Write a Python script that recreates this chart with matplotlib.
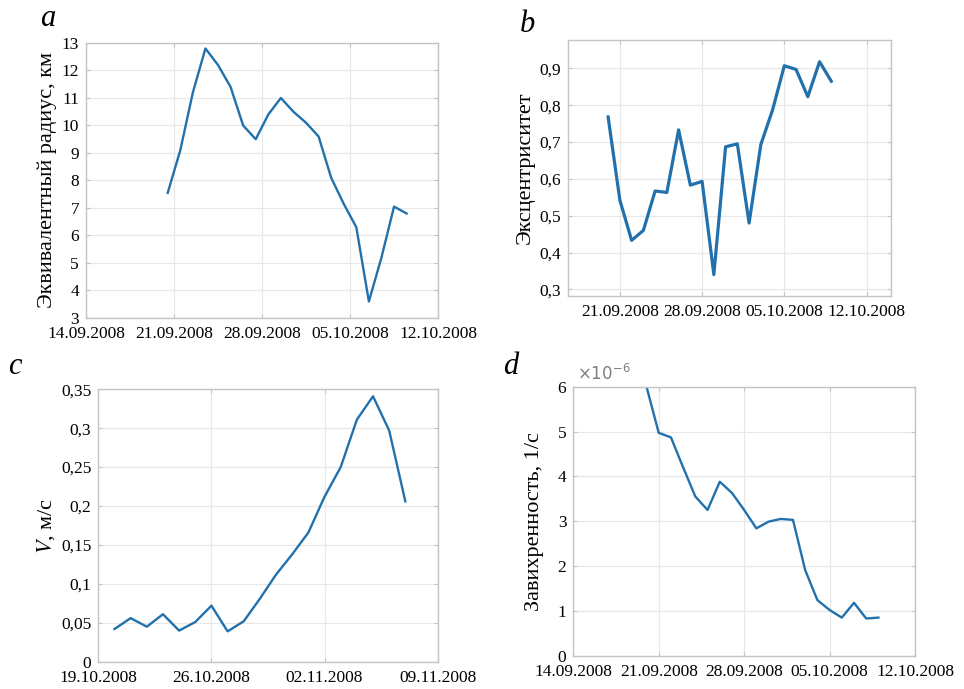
import matplotlib.pyplot as plt
import numpy as np
import pandas as pd

plt.rcParams['font.family'] = ['Liberation Serif', 'DejaVu Serif']
plt.rcParams['mathtext.fontset'] = 'stix'

# --- data ---
# a: equivalent radius, km (daily, 20.09.2008 12:00 ...)
a_dates = pd.date_range('2008-09-20 12:00', periods=20, freq='D')
a_vals = [7.55, 9.1, 11.2, 12.8, 12.2, 11.4, 10.0, 9.5, 10.4, 11.0,
          10.5, 10.1, 9.6, 8.1, 7.15, 6.3, 3.6, 5.2, 7.05, 6.8]

# b: eccentricity (daily, 20.09.2008 ...)
b_dates = pd.date_range('2008-09-20', periods=20, freq='D')
b_vals = [0.768, 0.542, 0.433, 0.46, 0.567, 0.563, 0.733, 0.583, 0.593, 0.34,
          0.687, 0.695, 0.48, 0.693, 0.787, 0.907, 0.897, 0.823, 0.918, 0.865]

# c: velocity, m/s (daily, 20.10.2008 ...)
c_dates = pd.date_range('2008-10-20', periods=19, freq='D')
c_vals = [0.042, 0.056, 0.045, 0.061, 0.040, 0.051, 0.072, 0.039, 0.052, 0.081,
          0.112, 0.138, 0.166, 0.212, 0.250, 0.311, 0.341, 0.297, 0.206]

# d: vorticity, 1/s (daily, 20.09.2008 ...)
d_dates = pd.date_range('2008-09-20', periods=20, freq='D')
d_vals = np.array([6.0, 4.97, 4.87, 4.2, 3.55, 3.25, 3.88, 3.63, 3.25, 2.84,
                   2.99, 3.05, 3.03, 1.91, 1.24, 1.02, 0.85, 1.18, 0.83, 0.85]) * 1e-6

sep_ticks = pd.to_datetime(['2008-09-14', '2008-09-21', '2008-09-28', '2008-10-05', '2008-10-12'])
sep_labels = ['14.09.2008', '21.09.2008', '28.09.2008', '05.10.2008', '12.10.2008']
oct_ticks = pd.to_datetime(['2008-10-19', '2008-10-26', '2008-11-02', '2008-11-09'])
oct_labels = ['19.10.2008', '26.10.2008', '02.11.2008', '09.11.2008']

a_yticks = list(range(3, 14))
b_yticks = [0.3, 0.4, 0.5, 0.6, 0.7, 0.8, 0.9]
b_ylabels = ['0,3', '0,4', '0,5', '0,6', '0,7', '0,8', '0,9']
c_yticks = [0, 0.05, 0.1, 0.15, 0.2, 0.25, 0.3, 0.35]
c_ylabels = ['0', '0,05', '0,1', '0,15', '0,2', '0,25', '0,3', '0,35']
d_yticks = np.arange(0, 7) * 1e-6
d_ylabels = ['0', '1', '2', '3', '4', '5', '6']

line_color = '#2271ad'
box_color = '#c4c4c4'
grid_color = '#e8e8e8'

fig = plt.figure(figsize=(9.64, 6.89), dpi=100)
ax_a = fig.add_axes([0.0892, 0.5385, 0.3652, 0.3991])
ax_b = fig.add_axes([0.5892, 0.5704, 0.3351, 0.3716])
ax_c = fig.add_axes([0.1020, 0.0396, 0.3520, 0.3954])
ax_d = fig.add_axes([0.5947, 0.0483, 0.3545, 0.3905])


def style(ax):
    for s in ax.spines.values():
        s.set_color(box_color)
        s.set_linewidth(1.0)
    ax.grid(True, color=grid_color, linewidth=0.9)
    ax.set_axisbelow(True)
    ax.tick_params(direction='in', length=3, color=box_color, labelsize=12.5,
                   top=True, right=True)
    ax.tick_params(axis='x', pad=6)
    ax.tick_params(axis='y', pad=5)


ax_a.plot(a_dates, a_vals, color=line_color, lw=1.7)
ax_a.set_xlim(pd.Timestamp('2008-09-14'), pd.Timestamp('2008-10-12'))
ax_a.set_ylim(3, 13)
ax_a.set_xticks(sep_ticks)
ax_a.set_xticklabels(sep_labels)
ax_a.set_yticks(a_yticks)
ax_a.set_ylabel('Эквивалентный радиус, км', fontsize=16, labelpad=3)

ax_b.plot(b_dates, b_vals, color=line_color, lw=2.3)
ax_b.set_xlim(pd.Timestamp('2008-09-16 14:00'), pd.Timestamp('2008-10-14 02:00'))
ax_b.set_ylim(0.282, 0.977)
ax_b.set_xticks(sep_ticks[1:])
ax_b.set_xticklabels(sep_labels[1:])
ax_b.set_yticks(b_yticks)
ax_b.set_yticklabels(b_ylabels)
ax_b.set_ylabel('Эксцентриситет', fontsize=16, labelpad=3)

ax_c.plot(c_dates, c_vals, color=line_color, lw=1.7)
ax_c.set_xlim(oct_ticks[0], oct_ticks[-1])
ax_c.set_ylim(0, 0.35)
ax_c.set_xticks(oct_ticks)
ax_c.set_xticklabels(oct_labels)
ax_c.set_yticks(c_yticks)
ax_c.set_yticklabels(c_ylabels)
ax_c.set_ylabel('$V$, м/с', fontsize=16, labelpad=3)

ax_d.plot(d_dates, d_vals, color=line_color, lw=1.7)
ax_d.set_xlim(sep_ticks[0], sep_ticks[-1])
ax_d.set_ylim(0, 6e-6)
ax_d.set_xticks(sep_ticks)
ax_d.set_xticklabels(sep_labels)
ax_d.set_yticks(d_yticks)
ax_d.set_yticklabels(d_ylabels)
ax_d.set_ylabel('Завихренность, 1/с', fontsize=16, labelpad=10)
ax_d.text(0.01, 1.01, r'$\times10^{-6}$', transform=ax_d.transAxes,
          fontsize=12, color='#808080', math_fontfamily='dejavusans',
          ha='left', va='bottom')

for ax in (ax_a, ax_b, ax_c, ax_d):
    style(ax)

letter_kw = dict(fontsize=22, style='italic', ha='center', va='center')
fig.text(48 / 964, 1 - 18 / 689, 'a', **letter_kw)
fig.text(527 / 964, 1 - 24 / 689, 'b', **letter_kw)
fig.text(15 / 964, 1 - 366 / 689, 'c', **letter_kw)
fig.text(511 / 964, 1 - 366 / 689, 'd', **letter_kw)

plt.savefig('out.png', dpi=100)
plt.close()
